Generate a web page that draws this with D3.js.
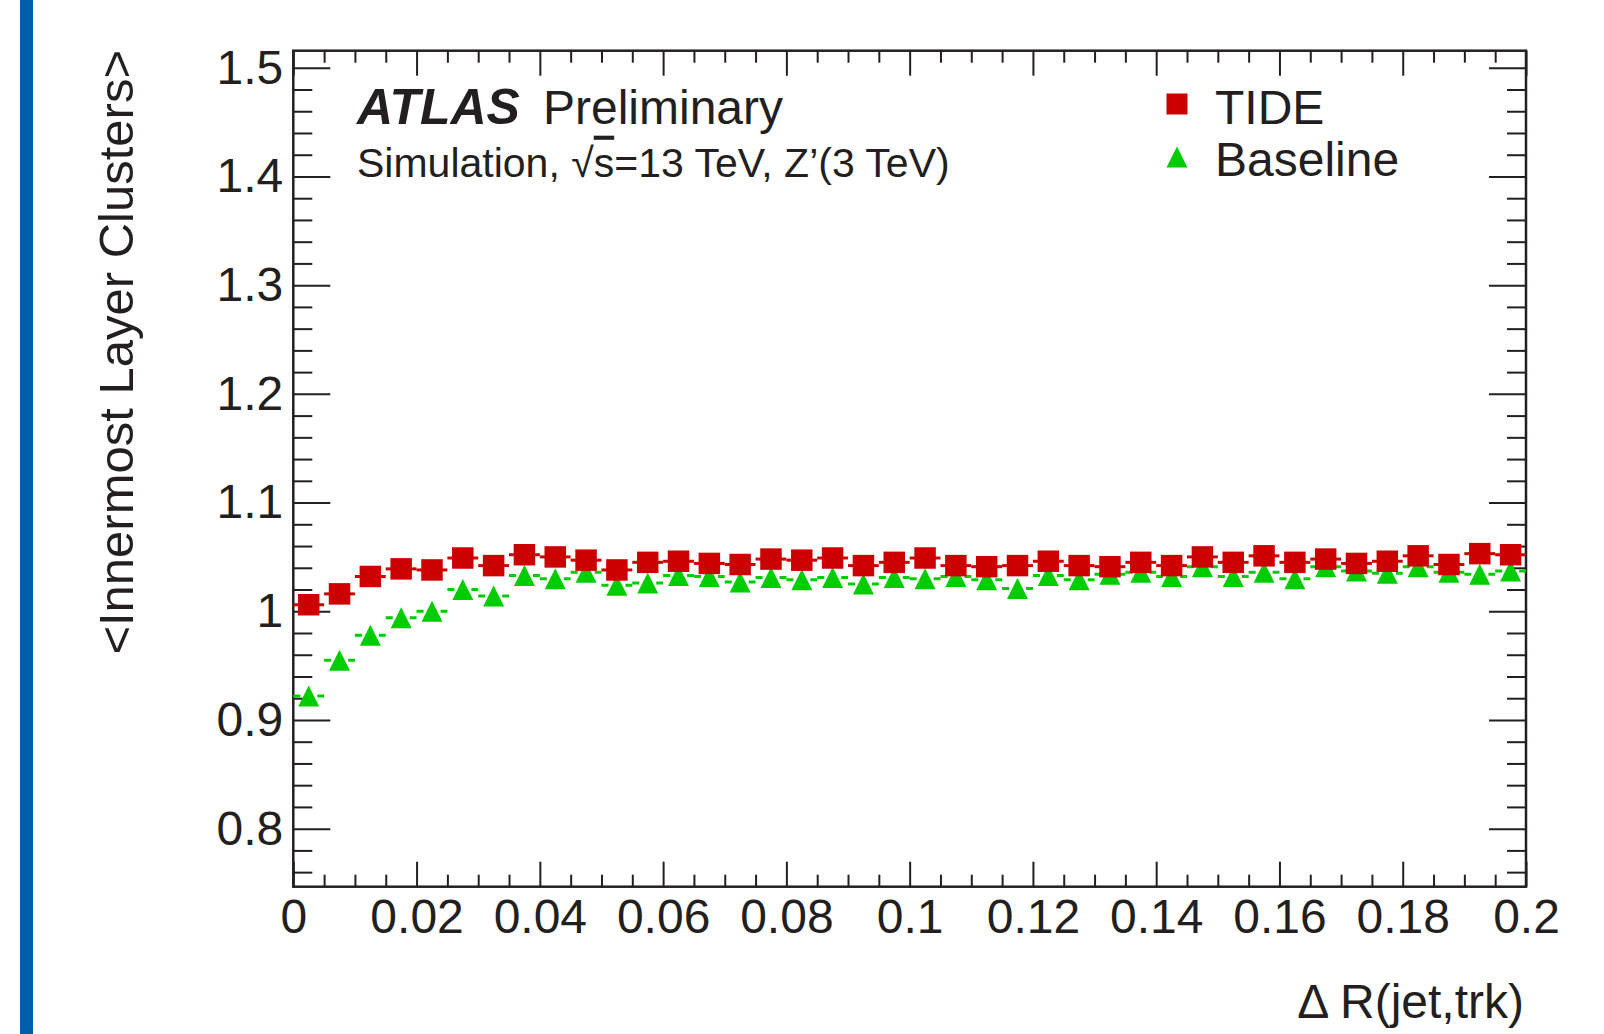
<!DOCTYPE html>
<meta charset="utf-8">
<style>
body { margin: 0; background: #fff; }
text { font-family: "Liberation Sans", Arial, Helvetica, sans-serif; fill: #231f20; }
.tick line { stroke: #231f20; stroke-width: 2px; }
</style>
<svg width="1604" height="1034"></svg>
<script src="https://d3js.org/d3.v7.min.js"></script>
<script>

// bin centres in dR(jet,trk), bin width 0.005
var binCenters = [0.0025, 0.0075, 0.0125, 0.0175, 0.0225, 0.0275, 0.0325, 0.0375, 0.0425, 0.0475,
                  0.0525, 0.0575, 0.0625, 0.0675, 0.0725, 0.0775, 0.0825, 0.0875, 0.0925, 0.0975,
                  0.1025, 0.1075, 0.1125, 0.1175, 0.1225, 0.1275, 0.1325, 0.1375, 0.1425, 0.1475,
                  0.1525, 0.1575, 0.1625, 0.1675, 0.1725, 0.1775, 0.1825, 0.1875, 0.1925, 0.1975];
var binWidth = 0.005;

var tide = [1.006, 1.016, 1.032, 1.039, 1.038, 1.049, 1.042, 1.052, 1.050, 1.047,
            1.038, 1.045, 1.046, 1.044, 1.043, 1.048, 1.047, 1.049, 1.042, 1.045,
            1.049, 1.042, 1.041, 1.042, 1.046, 1.042, 1.041, 1.045, 1.042, 1.050,
            1.045, 1.051, 1.045, 1.048, 1.044, 1.046, 1.051, 1.043, 1.053, 1.052];

var baseline = [0.922, 0.955, 0.978, 0.994, 1.000, 1.020, 1.014, 1.033, 1.030, 1.036,
                1.024, 1.026, 1.033, 1.032, 1.027, 1.031, 1.029, 1.031, 1.025, 1.031,
                1.030, 1.032, 1.029, 1.021, 1.033, 1.029, 1.034, 1.036, 1.032, 1.041,
                1.032, 1.036, 1.030, 1.041, 1.037, 1.035, 1.041, 1.036, 1.034, 1.037];

var xMajor = [0, 0.02, 0.04, 0.06, 0.08, 0.1, 0.12, 0.14, 0.16, 0.18, 0.2];
var yMajor = [0.8, 0.9, 1.0, 1.1, 1.2, 1.3, 1.4, 1.5];

var svg = d3.select("svg"),
    plotLeft = 293.3, plotRight = 1526, plotTop = 50.7, plotBottom = 886.7;

var x = d3.scaleLinear().domain([0, 0.2]).range([plotLeft, plotRight]);
var y = d3.scaleLinear().domain([0.7466, 1.5157]).range([plotBottom, plotTop]);

var xMinor = d3.range(0, 41).map(function(i) { return i * 0.005; })
    .filter(function(v) { return Math.round(v * 1000) % 20 != 0; });
var yMinor = d3.range(38, 76).map(function(i) { return i * 0.02; })
    .filter(function(v) { return Math.round(v * 100) % 10 != 0; });

// blue strip on the left
svg.append("rect")
    .attr("x", 20).attr("y", 0)
    .attr("width", 13).attr("height", 1034)
    .attr("fill", "#005daa");

function fmtX(d) { return String(+d.toFixed(2)); }
function fmtY(d) { return String(+d.toFixed(1)); }

function styleAxis(g) {
  g.select(".domain").remove();
  g.attr("font-size", 48)
   .attr("font-family", "'Liberation Sans', Arial, Helvetica, sans-serif");
  g.selectAll("text").attr("fill", "#231f20");
}

// bottom
svg.append("g")
    .attr("transform", "translate(0," + plotBottom + ")")
    .call(d3.axisBottom(x).tickValues(xMajor).tickFormat(fmtX)
        .tickSizeInner(-25).tickSizeOuter(0).tickPadding(12))
    .call(styleAxis);
svg.append("g")
    .attr("transform", "translate(0," + plotBottom + ")")
    .call(d3.axisBottom(x).tickValues(xMinor).tickFormat("")
        .tickSizeInner(-12).tickSizeOuter(0))
    .call(styleAxis);
// top
svg.append("g")
    .attr("transform", "translate(0," + plotTop + ")")
    .call(d3.axisTop(x).tickValues(xMajor).tickFormat("")
        .tickSizeInner(-25).tickSizeOuter(0))
    .call(styleAxis);
svg.append("g")
    .attr("transform", "translate(0," + plotTop + ")")
    .call(d3.axisTop(x).tickValues(xMinor).tickFormat("")
        .tickSizeInner(-12).tickSizeOuter(0))
    .call(styleAxis);
// left
svg.append("g")
    .attr("transform", "translate(" + plotLeft + ",0)")
    .call(d3.axisLeft(y).tickValues(yMajor).tickFormat(fmtY)
        .tickSizeInner(-37).tickSizeOuter(0).tickPadding(10))
    .call(styleAxis);
svg.append("g")
    .attr("transform", "translate(" + plotLeft + ",0)")
    .call(d3.axisLeft(y).tickValues(yMinor).tickFormat("")
        .tickSizeInner(-19).tickSizeOuter(0))
    .call(styleAxis);
// right
svg.append("g")
    .attr("transform", "translate(" + plotRight + ",0)")
    .call(d3.axisRight(y).tickValues(yMajor).tickFormat("")
        .tickSizeInner(-37).tickSizeOuter(0))
    .call(styleAxis);
svg.append("g")
    .attr("transform", "translate(" + plotRight + ",0)")
    .call(d3.axisRight(y).tickValues(yMinor).tickFormat("")
        .tickSizeInner(-19).tickSizeOuter(0))
    .call(styleAxis);

// frame
svg.append("rect")
    .attr("x", plotLeft).attr("y", plotTop)
    .attr("width", plotRight - plotLeft).attr("height", plotBottom - plotTop)
    .attr("fill", "none")
    .attr("stroke", "#231f20")
    .attr("stroke-width", 2.5);

// ROOT style triangle (bounding box centred)
var boxTriangle = {
  draw: function(context, size) {
    var h = Math.sqrt(size);
    context.moveTo(0, -h / 2);
    context.lineTo(h / 2, h / 2);
    context.lineTo(-h / 2, h / 2);
    context.closePath();
  }
};

var green = "#00cc00", red = "#cc0000";

// Baseline (green, dashed)
var gBase = svg.append("g");
gBase.selectAll("line")
    .data(baseline)
    .enter().append("line")
      .attr("x1", function(d, i) { return x(binCenters[i] - binWidth / 2); })
      .attr("x2", function(d, i) { return x(binCenters[i] + binWidth / 2); })
      .attr("y1", function(d) { return y(d); })
      .attr("y2", function(d) { return y(d); })
      .attr("stroke", green)
      .attr("stroke-width", 3)
      .attr("stroke-dasharray", "7,5");
gBase.selectAll("path")
    .data(baseline)
    .enter().append("path")
      .attr("d", d3.symbol().type(boxTriangle).size(441))
      .attr("transform", function(d, i) { return "translate(" + x(binCenters[i]) + "," + y(d) + ")"; })
      .attr("fill", green);

// TIDE (red, solid)
var gTide = svg.append("g");
gTide.selectAll("line")
    .data(tide)
    .enter().append("line")
      .attr("x1", function(d, i) { return x(binCenters[i] - binWidth / 2); })
      .attr("x2", function(d, i) { return x(binCenters[i] + binWidth / 2); })
      .attr("y1", function(d) { return y(d); })
      .attr("y2", function(d) { return y(d); })
      .attr("stroke", red)
      .attr("stroke-width", 3);
gTide.selectAll("path")
    .data(tide)
    .enter().append("path")
      .attr("d", d3.symbol().type(d3.symbolSquare).size(462))
      .attr("transform", function(d, i) { return "translate(" + x(binCenters[i]) + "," + y(d) + ")"; })
      .attr("fill", red);

// labels
svg.append("text")
    .attr("x", 357).attr("y", 124)
    .attr("font-size", 50)
    .attr("font-weight", "bold")
    .attr("font-style", "italic")
    .text("ATLAS");
svg.append("text")
    .attr("x", 543).attr("y", 124)
    .attr("font-size", 48)
    .text("Preliminary");

var sim = svg.append("text")
    .attr("x", 357).attr("y", 176.7)
    .attr("font-size", 41);
sim.append("tspan").text("Simulation, \u221A");
sim.append("tspan").style("text-decoration", "overline").text("s");
sim.append("tspan").text("=13 TeV, Z\u2019(3 TeV)");

// legend
svg.append("path")
    .attr("d", d3.symbol().type(d3.symbolSquare).size(441))
    .attr("transform", "translate(1177,104)")
    .attr("fill", red);
svg.append("path")
    .attr("d", d3.symbol().type(boxTriangle).size(441))
    .attr("transform", "translate(1177,157)")
    .attr("fill", green);
svg.append("text")
    .attr("x", 1215).attr("y", 124)
    .attr("font-size", 48)
    .text("TIDE");
svg.append("text")
    .attr("x", 1215).attr("y", 176)
    .attr("font-size", 48)
    .text("Baseline");

// axis titles
svg.append("text")
    .attr("x", 1524).attr("y", 1018)
    .attr("font-size", 48)
    .attr("text-anchor", "end")
    .text("\u0394 R(jet,trk)");
svg.append("text")
    .attr("transform", "translate(133,50) rotate(-90)")
    .attr("font-size", 49)
    .attr("text-anchor", "end")
    .text("<Innermost Layer Clusters>");

</script>
